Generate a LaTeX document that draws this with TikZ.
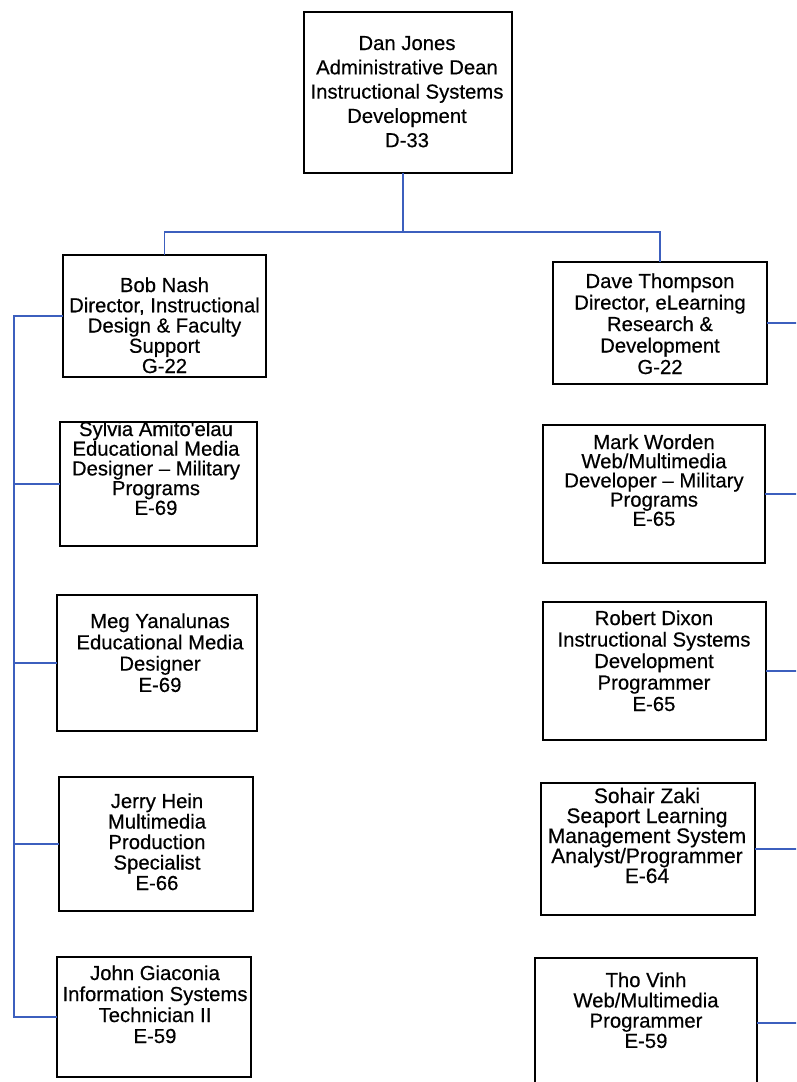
\documentclass[tikz,border=0pt]{standalone}
\usepackage{fontspec}
\setmainfont{Liberation Sans}
\newfontfamily\orgfont[FakeBold=0.4]{Liberation Sans}
\definecolor{connblue}{RGB}{60,95,190}
\tikzset{
  orgbox/.style={draw=black, line width=1.6pt, fill=white, inner sep=0pt, outer sep=0pt},
  conn/.style={draw=connblue, line width=1.8pt},
  txt/.style={anchor=base, inner sep=0pt},
}
\newcommand\orgtext[6][20.3]{%
  \foreach \t [count=\i from 0] in {#6} {%
    \node[txt, font=\orgfont\fontsize{#1}{24}\selectfont] (#2-\i) at (#3, {#4+\i*#5}) {\t};}}
\begin{document}
\begin{tikzpicture}[x=1pt,y=-1pt]
\clip (0,0) rectangle (796,1082);
\fill[white] (0,0) rectangle (796,1082);
% boxes
\node[orgbox, minimum width=208, minimum height=161] (dan) at (408,92.5) {};
\node[orgbox, minimum width=203, minimum height=122] (bob) at (164.5,316) {};
\node[orgbox, minimum width=214, minimum height=122] (dave) at (660,323) {};
\node[orgbox, minimum width=197, minimum height=124] (syl) at (158.5,484) {};
\node[orgbox, minimum width=222, minimum height=138] (mark) at (654,494) {};
\node[orgbox, minimum width=200, minimum height=136] (meg) at (157,663) {};
\node[orgbox, minimum width=223, minimum height=138] (rob) at (654.5,671) {};
\node[orgbox, minimum width=194, minimum height=134] (jerry) at (156,844) {};
\node[orgbox, minimum width=214, minimum height=132] (sohair) at (648,849) {};
\node[orgbox, minimum width=194, minimum height=120] (john) at (154,1017) {};
\node[orgbox, minimum width=222, minimum height=130] (tho) at (646,1023) {};
% texts
\orgtext{dant}{407}{50}{24.3}{Dan Jones, Administrative Dean, Instructional Systems, Development, D-33}
\orgtext{bobt}{164.5}{292}{20.25}{Bob Nash, {Director, Instructional}, Design \& Faculty, Support, G-22}
\orgtext{davet}{660}{288}{21.5}{Dave Thompson, {Director, eLearning}, Research \&, Development, G-22}
\orgtext{sylt}{156}{436}{19.7}{Sylvia Amito'elau, Educational Media, Designer – Military, Programs, E-69}
\orgtext{markt}{654}{449}{19.2}{Mark Worden, Web/Multimedia, Developer – Military, Programs, E-65}
\orgtext{megt}{160}{628}{21.3}{Meg Yanalunas, Educational Media, Designer, E-69}
\orgtext{robt}{654}{625}{21.5}{Robert Dixon, Instructional Systems, Development, Programmer, E-65}
\orgtext{jerryt}{157}{808}{20.5}{Jerry Hein, Multimedia, Production, Specialist, E-66}
\orgtext[21]{sohairt}{647}{803}{20}{Sohair Zaki, Seaport Learning, Management System, Analyst/Programmer, E-64}
\orgtext{johnt}{155}{980}{21}{John Giaconia, Information Systems, Technician II, E-59}
\orgtext{thot}{646}{987}{20.3}{Tho Vinh, Web/Multimedia, Programmer, E-59}
% connectors
\coordinate (jt) at (403,232);
\coordinate (lb) at (14,316);
\coordinate (re) at (800,0);
\draw[conn] (dan.south -| jt) -- (jt);
\draw[conn] (bob.north) -- (bob.north |- jt) -- (dave.north |- jt) -- (dave.north);
\draw[conn] (bob.west) -- (bob.west -| lb) -- (john.west -| lb) -- (john.west);
\draw[conn] (syl.west) -- (syl.west -| lb);
\draw[conn] (meg.west) -- (meg.west -| lb);
\draw[conn] (jerry.west) -- (jerry.west -| lb);
\draw[conn] (dave.east) -- (dave.east -| re);
\draw[conn] (mark.east) -- (mark.east -| re);
\draw[conn] (rob.east) -- (rob.east -| re);
\draw[conn] (sohair.east) -- (sohair.east -| re);
\draw[conn] (tho.east) -- (tho.east -| re);
\end{tikzpicture}
\end{document}
